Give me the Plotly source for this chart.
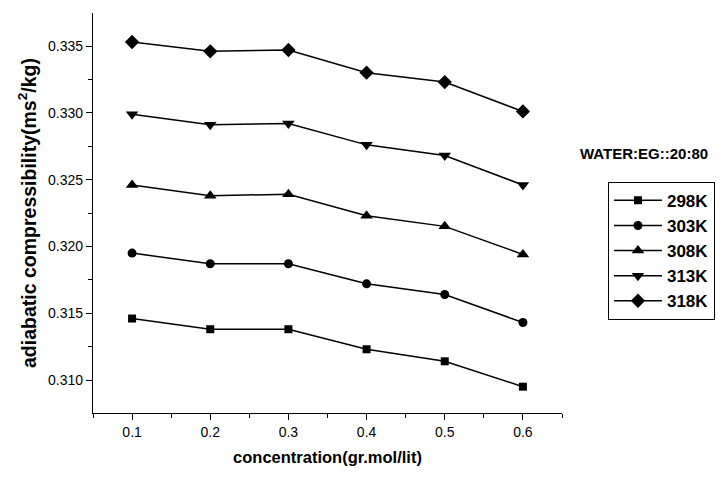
import plotly.graph_objects as go

conc = [0.1, 0.2, 0.3, 0.4, 0.5, 0.6]
k298 = [0.3146, 0.3138, 0.3138, 0.3123, 0.3114, 0.3095]
k303 = [0.3195, 0.3187, 0.3187, 0.3172, 0.3164, 0.3143]
k308 = [0.3246, 0.3238, 0.3239, 0.3223, 0.3215, 0.3194]
k313 = [0.3299, 0.3291, 0.3292, 0.3276, 0.3268, 0.3246]
k318 = [0.3353, 0.3346, 0.3347, 0.3330, 0.3323, 0.3301]

series = [("298K", k298, "square", 8), ("303K", k303, "circle", 9),
          ("308K", k308, "triangle-up", 11), ("313K", k313, "triangle-down", 11),
          ("318K", k318, "diamond", 11)]

FONT = "Arial, Liberation Sans, sans-serif"
fig = go.Figure()
for name, ys, sym, sz in series:
    fig.add_trace(go.Scatter(x=conc, y=ys, name=name, mode="lines+markers",
                             line=dict(color="black", width=1.5),
                             marker=dict(symbol=sym, size=sz, color="black")))

fig.update_layout(
    width=725, height=477,
    margin=dict(l=93, r=163, t=13, b=64, autoexpand=False),
    paper_bgcolor="white", plot_bgcolor="white",
    font=dict(family=FONT, color="black", size=14),
    showlegend=True,
    legend=dict(x=1.098, y=0.578, xanchor="left", yanchor="top",
                bordercolor="black", borderwidth=1,
                font=dict(size=17, family=FONT, weight="bold"),
                itemwidth=48, tracegroupgap=0),
    xaxis=dict(range=[0.05, 0.65], tickvals=[0.1, 0.2, 0.3, 0.4, 0.5, 0.6],
               ticktext=["0.1", "0.2", "0.3", "0.4", "0.5", "0.6"],
               showgrid=False, zeroline=False, showline=True, linecolor="black", linewidth=1.3,
               ticks="outside", ticklen=6, tickwidth=1.3, tickcolor="black",
               minor=dict(tickvals=[0.05, 0.15, 0.25, 0.35, 0.45, 0.55, 0.65], ticks="outside", ticklen=4, tickcolor="black", tickwidth=1.2),
               title=dict(text="concentration(gr.mol/lit)", font=dict(size=16.5, weight="bold"), standoff=12)),
    yaxis=dict(range=[0.30753, 0.33747], tickvals=[0.310, 0.315, 0.320, 0.325, 0.330, 0.335],
               ticktext=["0.310", "0.315", "0.320", "0.325", "0.330", "0.335"],
               showgrid=False, zeroline=False, showline=True, linecolor="black", linewidth=1.3,
               ticks="outside", ticklen=6, tickwidth=1.3, tickcolor="black",
               minor=dict(tickvals=[0.3075, 0.3125, 0.3175, 0.3225, 0.3275, 0.3325, 0.3375], ticks="outside", ticklen=4, tickcolor="black", tickwidth=1.2),
               title=dict(text="adiabatic compressibility(ms<sup>2</sup>/kg)", font=dict(size=19.5, weight="bold"), standoff=6)),
)
fig.add_annotation(text="<b>WATER:EG::20:80</b>", xref="paper", yref="paper",
                   x=1.035, y=0.65, xanchor="left", yanchor="middle",
                   showarrow=False, font=dict(size=15, family=FONT))
fig.write_html("out.html")
